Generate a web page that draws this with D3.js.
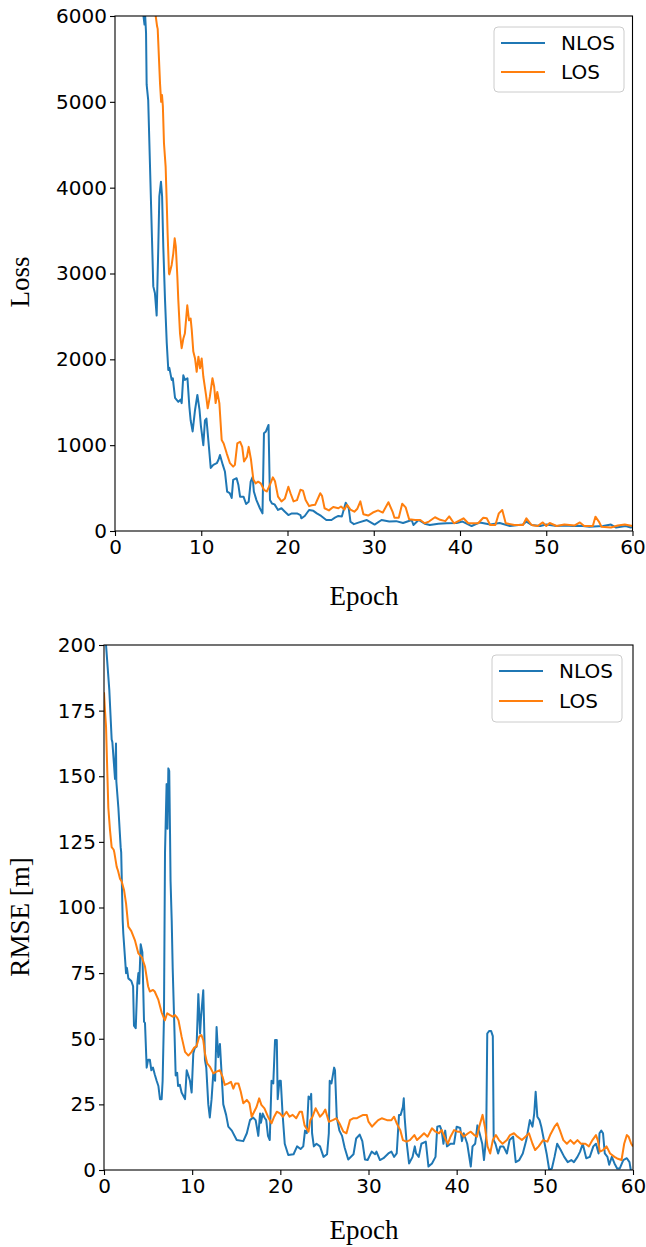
<!DOCTYPE html>
<html>
<head>
<meta charset="utf-8">
<script src="https://cdnjs.cloudflare.com/ajax/libs/d3/7.8.5/d3.min.js"></script>
<style>
  body { margin: 0; background: #fff; }
  .tick text { font-family: "DejaVu Sans", sans-serif; font-size: 20px; fill: #000; }
  .tick line { stroke: #000; stroke-width: 1.1; }
  .axisLabel { font-family: "Liberation Serif", "Times New Roman", serif; font-size: 27px; fill: #000; }
  .legendText { font-family: "DejaVu Sans", sans-serif; font-size: 20px; fill: #000; }
</style>
</head>
<body>
<div id="chart"></div>
<script>

var W = 646, H = 1247;

var seriesNames = ["NLOS", "LOS"];
var colours = ["#1f77b4", "#ff7f0e"];
var epochTicks = [0, 10, 20, 30, 40, 50, 60];
var lossTicks = [0, 1000, 2000, 3000, 4000, 5000, 6000];
var rmseTicks = [0, 25, 50, 75, 100, 125, 150, 175, 200];

// [epoch, loss] (values above 6000 are clipped)
var lossNlos = [[0,40000],[1.5,16000],[2.5,9500],[3.1,6800],[3.3,6000],[3.42,5900],[3.5,6000],[3.6,5800],[3.67,5200],[3.85,5020],[4.44,2850],[4.63,2770],[4.83,2510],[5.02,3310],[5.14,3900],[5.33,4070],[5.46,3900],[5.6,3310],[5.8,2690],[6.0,2190],[6.18,1875],[6.3,1900],[6.57,1760],[6.7,1780],[6.96,1550],[7.34,1505],[7.6,1530],[7.73,1490],[7.92,1815],[8.1,1760],[8.4,1780],[8.62,1450],[8.77,1290],[9.0,1160],[9.28,1410],[9.55,1585],[9.8,1410],[9.97,1215],[10.24,1000],[10.43,1290],[10.6,1310],[10.82,1060],[11.1,735],[11.4,770],[11.8,790],[12.0,830],[12.17,885],[12.5,770],[12.75,690],[13.0,458],[13.3,440],[13.53,385],[13.7,595],[14.1,615],[14.3,540],[14.5,400],[14.9,400],[15.2,315],[15.5,340],[15.73,575],[15.96,630],[16.1,460],[16.4,360],[16.8,265],[17.1,205],[17.27,1140],[17.5,1160],[17.8,1235],[17.97,360],[18.2,320],[18.5,310],[18.9,245],[19.3,265],[19.7,225],[20.1,186],[20.5,205],[21.1,205],[21.5,186],[21.6,148],[22.0,175],[22.5,245],[23.0,235],[23.4,205],[23.9,175],[24.5,128],[25.1,128],[25.5,155],[25.9,175],[26.3,170],[26.75,330],[27.1,265],[27.3,108],[27.7,80],[28.3,100],[29.2,128],[30.1,75],[30.9,128],[31.8,110],[32.6,115],[33.4,93],[34.4,128],[34.6,70],[35.2,128],[35.9,85],[36.5,70],[37.5,85],[38.45,90],[39.6,93],[40.3,110],[41.35,58],[42.3,100],[43.5,75],[44.6,93],[45.8,58],[47.3,75],[47.7,110],[48.3,70],[49.3,58],[50.0,75],[51.2,58],[52.2,65],[53.1,58],[54.0,62],[55.0,50],[56.6,58],[57.5,75],[58.1,40],[59.2,58],[59.8,40],[60,45]];

var lossLos = [[0,35000],[2,16000],[3.5,9000],[4.3,6800],[4.72,6000],[4.88,5880],[4.95,5850],[5.22,5215],[5.35,5000],[5.45,5080],[5.55,4950],[5.68,4515],[5.87,4245],[5.99,3855],[6.1,3470],[6.26,3000],[6.3,2990],[6.57,3100],[6.76,3235],[6.92,3410],[7.05,3315],[7.23,2960],[7.34,2690],[7.54,2300],[7.73,2130],[7.92,2240],[8.1,2300],[8.38,2630],[8.58,2455],[8.77,2475],[8.9,2340],[9.08,2090],[9.28,2010],[9.47,1855],[9.67,2030],[9.86,1895],[10.05,2010],[10.24,1800],[10.55,1585],[10.75,1430],[11.0,1565],[11.3,1780],[11.5,1680],[11.67,1490],[11.86,1620],[12.1,1490],[12.37,1060],[12.6,1020],[12.95,905],[13.33,790],[13.7,750],[13.9,770],[14.18,1020],[14.5,1040],[14.75,980],[14.96,810],[15.3,865],[15.5,980],[15.77,830],[16.04,600],[16.3,555],[16.6,575],[16.9,555],[17.27,480],[17.6,460],[17.97,540],[18.3,625],[18.55,580],[18.9,400],[19.3,345],[19.7,380],[20.1,515],[20.35,440],[20.7,345],[21.1,360],[21.5,480],[21.8,470],[22.1,360],[22.5,290],[22.8,300],[23.2,305],[23.8,440],[24.0,410],[24.3,265],[24.8,240],[25.3,280],[25.9,265],[26.2,285],[26.6,250],[26.9,305],[27.3,250],[27.75,225],[28.1,260],[28.45,345],[28.8,195],[29.35,180],[29.9,215],[30.5,240],[31.05,215],[31.7,335],[32.2,220],[32.4,155],[32.9,155],[33.3,318],[33.7,275],[34.1,138],[34.8,128],[35.4,128],[35.9,90],[36.4,110],[37.1,160],[37.7,130],[38.3,115],[38.75,170],[39.3,90],[40.4,148],[40.96,90],[42.1,90],[42.7,155],[43.1,148],[43.5,70],[44.1,70],[44.5,205],[44.9,245],[45.3,90],[46.3,70],[47.3,70],[47.7,148],[48.3,70],[49.0,58],[49.6,100],[50.0,58],[50.4,93],[51.2,58],[52.1,75],[53.3,65],[53.9,100],[54.4,58],[55.4,58],[55.7,167],[56.1,110],[56.4,50],[57.5,40],[58.3,65],[59.1,75],[60,58]];

// [epoch, RMSE in m]
var rmseNlos = [[0,215],[0.23,200],[0.6,183],[0.87,164],[0.95,163],[1.25,149],[1.36,162.5],[1.4,148],[1.63,138],[1.89,123],[1.95,121],[2.12,95],[2.19,90],[2.5,75],[2.6,77],[2.76,73],[3.1,72],[3.3,70],[3.4,55],[3.6,54],[3.78,71],[3.9,75],[4.0,71],[4.16,86],[4.35,83],[4.54,56.5],[4.65,56],[4.84,39],[5.0,42],[5.2,42],[5.37,38],[5.56,39],[5.75,36.5],[5.97,34],[6.17,32],[6.35,27],[6.54,27],[6.65,34],[6.8,58],[6.92,121],[7.1,147],[7.2,130],[7.3,153],[7.4,152],[7.49,128],[7.55,110],[7.68,95],[7.79,77],[7.95,58],[8.13,36],[8.3,37],[8.4,32],[8.6,32.5],[8.8,29.5],[9.19,27],[9.38,38],[9.57,36],[9.75,34],[9.94,29.5],[10.13,44.5],[10.3,46.5],[10.5,47],[10.7,67],[10.9,52],[11.0,58],[11.26,68.5],[11.45,42],[11.6,39],[11.83,25],[12.0,20],[12.2,27],[12.4,37],[12.6,34],[12.77,54.5],[12.96,43],[13.15,48],[13.3,39],[13.53,25],[13.85,21],[14.1,16.5],[14.5,15],[15.05,11.4],[15.8,11],[16.2,14],[16.56,19],[16.9,20],[17.2,19],[17.5,13],[17.7,21.5],[17.8,18],[18.0,21.5],[18.2,20],[18.4,19],[18.6,13],[18.8,11.4],[19.0,34],[19.2,33],[19.4,49.5],[19.6,49.5],[19.7,27],[19.9,34],[20.05,34],[20.25,21.5],[20.5,10],[20.9,5.7],[21.5,6],[21.9,9],[22.3,8],[22.6,9],[22.8,15],[23.0,14],[23.2,28],[23.4,27],[23.5,29],[23.6,14],[23.8,9],[24.1,10],[24.5,9],[24.9,5],[25.3,6],[25.5,14],[25.6,34],[25.8,33],[26.1,39],[26.2,38],[26.4,20],[26.7,15],[27.0,13],[27.3,8.5],[27.7,4],[28.3,6],[28.6,12],[29.0,13.5],[29.3,11],[29.6,4],[29.9,3.8],[30.36,7],[30.75,6],[30.9,7],[31.3,3.8],[31.7,4.5],[32.25,6.3],[32.6,7],[32.9,5],[33.2,6.3],[33.46,21],[33.65,21],[33.9,24],[34.0,27.3],[34.1,20],[34.3,11.4],[34.6,2.5],[35.0,5],[35.25,9],[35.4,6.3],[35.7,5],[36.0,10],[36.5,10.8],[36.8,1.3],[37.2,2.5],[37.6,5],[37.8,16.5],[38.1,16.8],[38.3,15],[38.5,10],[38.7,15],[38.9,9],[39.3,10],[39.7,10],[40.0,16.5],[40.4,16],[40.6,11],[40.8,14],[41.2,10],[41.6,1.3],[41.8,9],[42.1,10],[42.35,17],[42.6,14],[42.9,10],[43.1,3.8],[43.35,12.7],[43.47,52],[43.7,53],[43.9,53],[44.1,51],[44.2,11.4],[44.4,10],[44.7,6.3],[44.95,9],[45.3,9],[45.7,6.3],[46.0,11.4],[46.4,12.7],[46.7,3],[47.1,3.8],[47.5,6.3],[47.9,11.4],[48.3,19],[48.6,16.5],[48.8,21.6],[48.96,29.8],[49.15,20.3],[49.4,19],[49.6,16.5],[49.9,11.4],[50.2,6.3],[50.5,0],[50.8,0.6],[51.1,5],[51.4,10],[51.8,7.6],[52.2,5],[52.6,3],[53.0,3.8],[53.3,3],[53.7,5],[54.0,7],[54.3,10],[54.7,4.5],[55.1,5],[55.5,9],[55.8,10],[56.1,6.3],[56.2,14],[56.4,15],[56.6,14],[56.8,6.3],[57.1,5],[57.3,2],[57.6,5],[57.9,2.5],[58.2,0.6],[58.5,0.6],[58.9,3.8],[59.3,4.5],[59.6,3],[59.75,0],[59.9,-3]];

var rmseLos = [[0,182],[0.11,175],[0.23,169],[0.38,151],[0.49,138],[0.68,129.5],[0.87,123],[1.1,122],[1.17,121],[1.44,115.5],[1.59,114],[1.81,111],[2.0,110],[2.27,106.7],[2.5,101.6],[2.76,92.7],[3.1,91],[3.5,87.6],[3.9,82.5],[4.3,81],[4.65,77.5],[5.0,70],[5.2,68],[5.56,68.6],[5.75,68],[6.17,64.8],[6.54,60],[6.9,57],[7.17,59.7],[7.5,59],[7.8,58.4],[8.05,59],[8.3,58],[8.45,57],[8.8,50.8],[9.19,45],[9.57,43.6],[9.94,45],[10.2,46.5],[10.5,47.2],[10.8,50.8],[11.05,51.4],[11.26,49.5],[11.45,44.4],[11.7,40.6],[12.0,39.4],[12.4,36.8],[12.77,37.5],[13.15,38],[13.45,35.5],[13.7,32.4],[14.1,33],[14.4,33.6],[14.67,31],[14.9,33],[15.24,33],[15.5,30],[15.8,25.4],[16.2,26.7],[16.5,25.4],[16.75,20.3],[17.0,22],[17.3,24],[17.6,27.3],[17.85,24.8],[18.2,23.5],[18.6,20.3],[19.0,17.8],[19.3,20.3],[19.6,22.2],[19.95,21.6],[20.3,20.3],[20.7,22.2],[21.05,20.3],[21.4,21],[21.8,19.7],[22.2,22.2],[22.45,22.2],[22.75,17],[23.2,14.6],[23.4,19],[23.65,20.3],[24.0,23.5],[24.5,20.3],[24.85,21.6],[25.1,23],[25.5,18.4],[25.95,19],[26.35,19.7],[26.7,17.8],[27.15,14.6],[27.5,14],[27.9,19],[28.25,19.7],[28.65,19.7],[29.0,20.3],[29.4,21],[29.8,21],[30.0,18.4],[30.4,16.5],[30.75,17.8],[31.1,19],[31.5,19.7],[32.1,19],[32.6,19],[32.9,20.3],[33.2,17.8],[33.6,15.2],[33.9,11.4],[34.3,10.8],[34.7,11.4],[35.2,13.3],[35.5,11.4],[35.9,12.7],[36.3,14],[36.7,12.7],[37.2,15.9],[37.6,14.6],[38.0,14],[38.3,15.2],[38.7,12],[39.0,10],[39.3,12.7],[39.7,15.2],[40.1,14.6],[40.4,14.6],[40.8,12.7],[41.3,14],[41.6,14.6],[42.0,13.3],[42.3,12.7],[42.6,17],[42.94,21],[43.2,16.5],[43.5,9],[43.8,6.3],[44.1,11.4],[44.45,13.3],[44.8,11.4],[45.2,10],[45.7,11.4],[46.05,13.3],[46.5,14],[46.9,12.7],[47.4,11.4],[47.8,12.7],[48.2,14],[48.6,10],[48.9,7.6],[49.3,9],[49.8,11.4],[50.3,10.8],[50.6,13.3],[51.1,16.5],[51.4,17.8],[51.7,15.2],[52.1,11.4],[52.5,10],[52.9,11.4],[53.3,10],[53.7,11.4],[54.1,10],[54.6,10],[55.0,9],[55.4,11.4],[55.8,13.3],[56.0,11.4],[56.25,7],[56.6,7.6],[57.0,9],[57.4,6.3],[57.9,5],[58.2,4.4],[58.7,3.8],[59.0,10],[59.3,13.3],[59.5,12.7],[59.8,10],[60,9]];

var svg = d3.select("#chart")
  .append("svg")
  .attr("width", W)
  .attr("height", H);

var defs = svg.append("defs");
var fmt = d3.format("d");

function drawPanel(p) {
  var x = d3.scaleLinear().domain([0, 60]).range([0, p.width]);
  var y = d3.scaleLinear().domain([0, p.yMax]).range([p.height, 0]);

  var g = svg.append("g")
    .attr("transform", "translate(" + p.left + "," + p.top + ")");

  defs.append("clipPath")
    .attr("id", p.id + "-clip")
    .append("rect")
    .attr("width", p.width)
    .attr("height", p.height);

  // axes
  g.append("g")
    .attr("transform", "translate(0," + p.height + ")")
    .call(d3.axisBottom(x).tickValues(epochTicks).tickFormat(fmt).tickSize(5).tickPadding(4).tickSizeOuter(0))
    .call(function(a) { a.select(".domain").remove(); });

  g.append("g")
    .call(d3.axisLeft(y).tickValues(p.yTicks).tickFormat(fmt).tickSize(5).tickPadding(3).tickSizeOuter(0))
    .call(function(a) { a.select(".domain").remove(); });

  var line = d3.line()
    .x(function(d) { return x(d[0]); })
    .y(function(d) { return y(d[1]); });

  var plot = g.append("g").attr("clip-path", "url(#" + p.id + "-clip)");

  p.series.forEach(function(s, i) {
    plot.append("path")
      .datum(s)
      .attr("d", line)
      .attr("fill", "none")
      .attr("stroke", colours[i])
      .attr("stroke-width", 2)
      .attr("stroke-linejoin", "round");
  });

  // frame
  g.append("rect")
    .attr("width", p.width)
    .attr("height", p.height)
    .attr("fill", "none")
    .attr("stroke", "#000")
    .attr("stroke-width", 1.1);

  // axis labels
  svg.append("text")
    .attr("class", "axisLabel")
    .attr("x", 364)
    .attr("y", p.xLabelY)
    .attr("text-anchor", "middle")
    .text("Epoch");

  svg.append("text")
    .attr("class", "axisLabel")
    .attr("transform", "translate(29," + p.yLabelY + ") rotate(-90)")
    .attr("text-anchor", "middle")
    .text(p.yLabel);

  // legend
  var lg = svg.append("g")
    .attr("transform", "translate(" + p.legX + "," + p.legY + ")");

  lg.append("rect")
    .attr("width", 130)
    .attr("height", p.legH)
    .attr("rx", 4)
    .attr("fill", "#fff")
    .attr("fill-opacity", 0.8)
    .attr("stroke", "#cccccc")
    .attr("stroke-width", 1);

  seriesNames.forEach(function(name, i) {
    var yy = 16 + i * p.legStep;
    lg.append("line")
      .attr("x1", 7).attr("x2", 51)
      .attr("y1", yy).attr("y2", yy)
      .attr("stroke", colours[i])
      .attr("stroke-width", 2);
    lg.append("text")
      .attr("class", "legendText")
      .attr("x", 67)
      .attr("y", yy)
      .attr("dy", "0.36em")
      .text(name);
  });
}

drawPanel({
  id: "loss", left: 115, top: 16, width: 517.5, height: 515,
  yMax: 6000, yTicks: lossTicks, yLabel: "Loss", yLabelY: 282,
  xLabelY: 605, series: [lossNlos, lossLos],
  legX: 494, legY: 27, legH: 65, legStep: 29
});

drawPanel({
  id: "rmse", left: 104, top: 645, width: 529, height: 525,
  yMax: 200, yTicks: rmseTicks, yLabel: "RMSE [m]", yLabelY: 917,
  xLabelY: 1239, series: [rmseNlos, rmseLos],
  legX: 492, legY: 655, legH: 67, legStep: 30
});

</script>
</body>
</html>
